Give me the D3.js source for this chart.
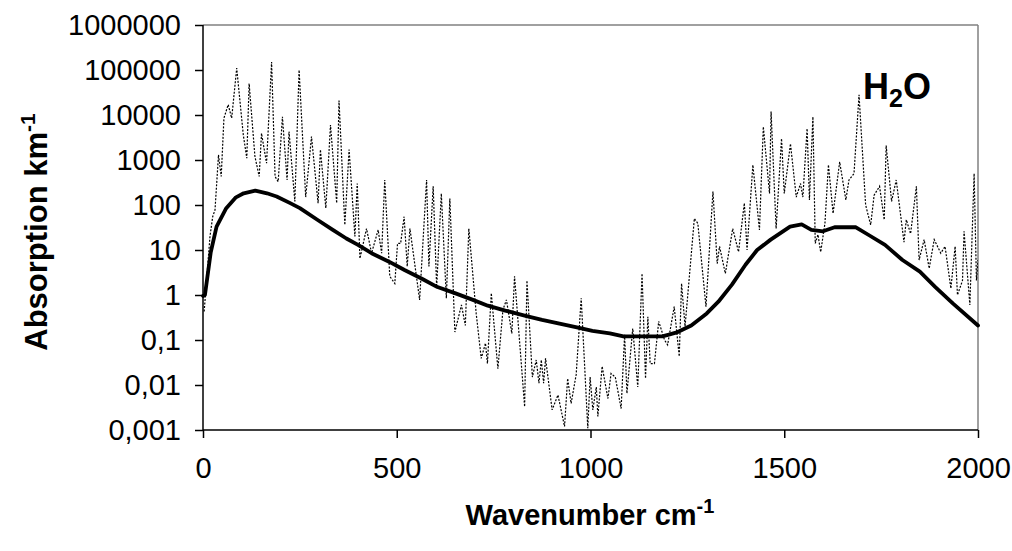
<!DOCTYPE html>
<html><head><meta charset="utf-8">
<script src="https://cdn.jsdelivr.net/npm/d3@7"></script>
<style>
html,body{margin:0;padding:0;background:#fff;}
svg{display:block;}
text{font-family:Arial,"Liberation Sans",sans-serif;fill:#000;}
</style></head>
<body><svg id="c" width="1012" height="551"></svg>
<script>
// Tick labels (European decimal comma)
const yTickValues = [0.001, 0.01, 0.1, 1, 10, 100, 1000, 10000, 100000, 1000000];
const yTickLabels = ["0,001", "0,01", "0,1", "1", "10", "100", "1000", "10000", "100000", "1000000"];
const xTickValues = [0, 500, 1000, 1500, 2000];
const xTickLabels = ["0", "500", "1000", "1500", "2000"];

// Smooth (band-averaged) absorption, thick solid line
const smoothWn = [0, 5, 20, 35, 60, 85, 105, 135, 165, 190, 225, 250, 295, 335, 370, 400, 435, 480, 520, 565, 605, 650, 695, 735, 780, 835, 875, 920, 965, 1005, 1050, 1085, 1135, 1185, 1200, 1225, 1260, 1300, 1330, 1365, 1400, 1430, 1465, 1515, 1545, 1570, 1600, 1630, 1685, 1720, 1760, 1805, 1850, 1890, 1935, 2000];
const smoothAbs = [0.95, 1.0, 8.9, 33, 85, 148, 182, 209, 182, 155, 110, 85, 47, 28, 18, 13, 8.5, 5.5, 3.6, 2.3, 1.5, 1.1, 0.79, 0.58, 0.45, 0.34, 0.28, 0.23, 0.19, 0.16, 0.14, 0.12, 0.12, 0.12, 0.13, 0.15, 0.21, 0.39, 0.71, 1.7, 4.7, 10, 17, 33, 37, 28, 26, 32, 32, 21, 13, 6, 3.3, 1.5, 0.65, 0.21];

// Line-by-line absorption, thin dotted line
const lineWn = [3, 18, 25, 31, 40, 47, 54, 65, 74, 87, 104, 113, 119, 134, 145, 151, 164, 177, 186, 194, 205, 217, 222, 237, 248, 265, 280, 297, 303, 317, 329, 345, 351, 366, 377, 392, 398, 405, 422, 435, 452, 461, 469, 482, 495, 502, 510, 519, 527, 534, 559, 577, 583, 594, 603, 615, 628, 637, 650, 667, 677, 686, 705, 718, 729, 734, 744, 761, 774, 783, 797, 804, 830, 836, 850, 860, 867, 873, 879, 884, 901, 916, 933, 941, 950, 963, 976, 993, 999, 1006, 1015, 1019, 1030, 1045, 1053, 1064, 1079, 1088, 1094, 1109, 1122, 1133, 1142, 1148, 1154, 1165, 1176, 1191, 1199, 1216, 1229, 1235, 1244, 1268, 1277, 1298, 1316, 1327, 1333, 1348, 1367, 1382, 1397, 1404, 1419, 1436, 1446, 1462, 1466, 1479, 1493, 1500, 1516, 1531, 1542, 1548, 1559, 1565, 1574, 1580, 1587, 1594, 1605, 1614, 1626, 1643, 1659, 1667, 1680, 1693, 1710, 1723, 1732, 1746, 1758, 1763, 1777, 1789, 1809, 1815, 1826, 1841, 1848, 1861, 1874, 1887, 1904, 1915, 1930, 1941, 1947, 1960, 1964, 1979, 1990, 1996, 2000];
const lineAbs = [0.43, 20, 55, 78, 1300, 430, 8500, 17000, 8500, 110000, 3600, 1100, 50000, 1200, 430, 3900, 850, 150000, 430, 330, 9100, 360, 4300, 120, 100000, 150, 3300, 110, 1700, 85, 6000, 110, 21000, 36, 1700, 20, 300, 6.5, 30, 8.5, 28, 8.5, 360, 2.6, 1.8, 14, 14, 55, 4.3, 30, 0.78, 360, 4.3, 260, 1.5, 180, 0.85, 140, 0.15, 0.6, 0.21, 30, 0.39, 0.039, 0.085, 0.03, 1.1, 0.023, 0.47, 0.78, 0.14, 2.6, 0.0033, 2.1, 0.015, 0.036, 0.011, 0.036, 0.011, 0.039, 0.0028, 0.006, 0.0012, 0.014, 0.0039, 0.017, 0.85, 0.0011, 0.015, 0.0028, 0.009, 0.002, 0.026, 0.005, 0.018, 0.015, 0.003, 0.13, 0.0065, 0.18, 0.009, 3.0, 0.014, 0.33, 0.03, 0.03, 0.26, 0.1, 0.078, 0.55, 0.043, 1.8, 0.2, 50, 39, 0.55, 200, 5, 12, 3, 30, 9.1, 110, 10, 780, 28, 5500, 180, 12000, 30, 3000, 180, 2300, 150, 300, 150, 5000, 130, 9100, 14, 22, 9, 39, 780, 65, 910, 130, 360, 500, 28000, 100, 36, 166, 260, 47, 2100, 120, 360, 15, 47, 23, 260, 6, 17, 3.9, 17, 8.5, 12, 1.4, 12, 1.0, 2.1, 26, 0.6, 500, 2.1, 6];

const svg = d3.select("#c");
const L = 203, R = 978, T = 25, B = 430;
const x = d3.scaleLinear().domain([0, 2000]).range([L, R]);
const y = d3.scaleLog().domain([0.001, 1000000]).range([B, T]);

svg.append("defs").append("clipPath").attr("id", "clip")
  .append("rect").attr("x", L).attr("y", T).attr("width", R - L).attr("height", B - T);

// plot area border (top & right in grey)
svg.append("line").attr("x1", L).attr("x2", R).attr("y1", T).attr("y2", T)
  .attr("stroke", "#808080").attr("stroke-width", 1.5);
svg.append("line").attr("x1", R).attr("x2", R).attr("y1", T).attr("y2", B)
  .attr("stroke", "#808080").attr("stroke-width", 1.5);

const lineGen = d3.line().x(d => x(d[0])).y(d => y(d[1]));

svg.append("path")
  .datum(d3.zip(lineWn, lineAbs))
  .attr("clip-path", "url(#clip)")
  .attr("d", lineGen)
  .attr("fill", "none").attr("stroke", "#000").attr("stroke-width", 1.2)
  .attr("stroke-dasharray", "2,1.5");

svg.append("path")
  .datum(d3.zip(smoothWn, smoothAbs))
  .attr("d", lineGen)
  .attr("fill", "none").attr("stroke", "#000").attr("stroke-width", 3.8)
  .attr("stroke-linejoin", "round").attr("stroke-linecap", "round");

// axes
const yAxis = d3.axisLeft(y).tickValues(yTickValues)
  .tickFormat((d, i) => yTickLabels[i]).tickSize(8).tickPadding(14);
const gy = svg.append("g").attr("transform", `translate(${L},0)`).call(yAxis);
const xAxis = d3.axisBottom(x).tickValues(xTickValues)
  .tickFormat((d, i) => xTickLabels[i]).tickSize(8).tickPadding(19);
const gx = svg.append("g").attr("transform", `translate(0,${B})`).call(xAxis);

[gx, gy].forEach(g => {
  g.select(".domain").attr("stroke", "#000").attr("stroke-width", 1.5)
    .attr("d", g === gx ? `M${L},0H${R}` : `M0,${B}V${T}`);
  g.selectAll(".tick line").attr("stroke", "#000").attr("stroke-width", 1.5);
  g.selectAll(".tick text").attr("font-size", 29)
    .attr("font-family", "Arial, 'Liberation Sans', sans-serif").attr("fill", "#000");
});

// axis titles
const yt = svg.append("text")
  .attr("transform", "translate(47,232) rotate(-90)")
  .attr("text-anchor", "middle").attr("font-size", 31).attr("font-weight", "bold");
yt.append("tspan").text("Absorption km");
yt.append("tspan").attr("dy", -12).attr("font-size", 21).text("-1");

const xt = svg.append("text")
  .attr("x", 590).attr("y", 525)
  .attr("text-anchor", "middle").attr("font-size", 29).attr("font-weight", "bold");
xt.append("tspan").text("Wavenumber cm");
xt.append("tspan").attr("dy", -12).attr("font-size", 20).text("-1");

// species label
const h = svg.append("text").attr("x", 863).attr("y", 99)
  .attr("font-size", 36).attr("font-weight", "bold");
h.append("tspan").text("H");
h.append("tspan").attr("dy", 8).attr("font-size", 25).text("2");
h.append("tspan").attr("dy", -8).text("O");
</script></body></html>
